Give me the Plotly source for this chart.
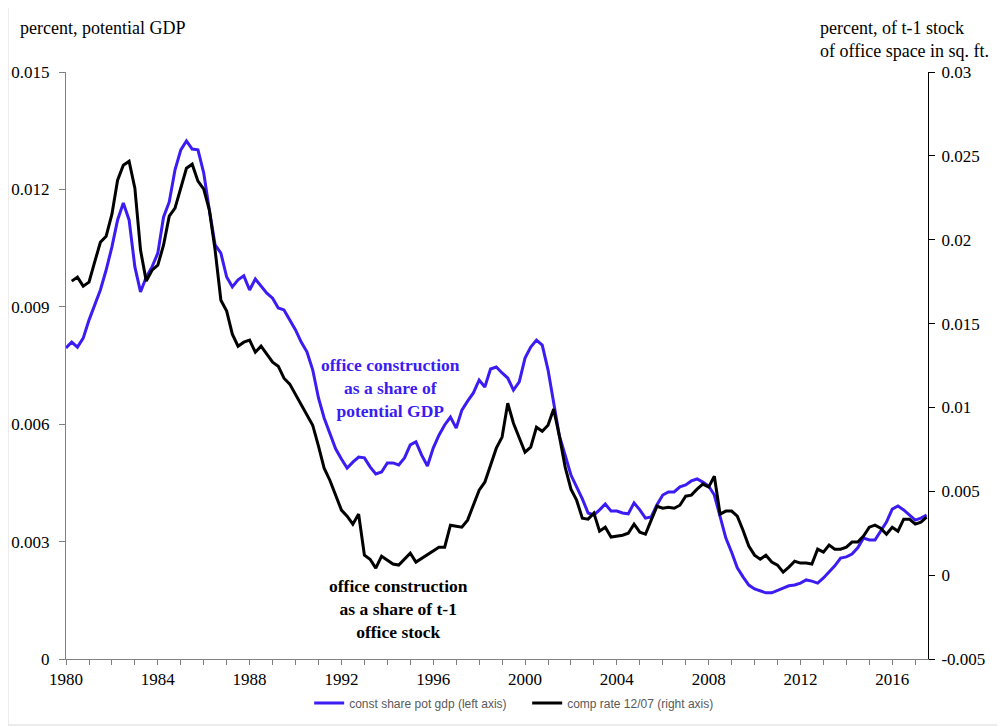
import pandas as pd
import plotly.graph_objects as go

# Quarterly observations, 1980Q1 .. 2017Q3
start_date = "1980-01-01"
n_quarters = 151

share_pot_gdp = [
    0.00795, 0.00810, 0.00797, 0.00820, 0.00866, 0.00905, 0.00943, 0.00994, 0.01053, 0.01122,
    0.01165, 0.01122, 0.01002, 0.00938, 0.00976, 0.01002, 0.01037, 0.01129, 0.01168, 0.01250,
    0.01301, 0.01324, 0.01303, 0.01301, 0.01242, 0.01147, 0.01058, 0.01037, 0.00976, 0.00951,
    0.00969, 0.00979, 0.00943, 0.00971, 0.00953, 0.00935, 0.00922, 0.00897, 0.00892, 0.00866,
    0.00841, 0.00810, 0.00785, 0.00739, 0.00667, 0.00616, 0.00578, 0.00537, 0.00511, 0.00488,
    0.00503, 0.00516, 0.00514, 0.00491, 0.00473, 0.00478, 0.00501, 0.00501, 0.00496, 0.00514,
    0.00547, 0.00555, 0.00521, 0.00493, 0.00539, 0.00572, 0.00598, 0.00618, 0.00590, 0.00636,
    0.00659, 0.00680, 0.00713, 0.00695, 0.00741, 0.00746, 0.00731, 0.00718, 0.00687, 0.00708,
    0.00769, 0.00797, 0.00815, 0.00802, 0.00739, 0.00649, 0.00570, 0.00521, 0.00470, 0.00440,
    0.00409, 0.00373, 0.00368, 0.00381, 0.00396, 0.00378, 0.00378, 0.00373, 0.00371, 0.00399,
    0.00381, 0.00360, 0.00363, 0.00394, 0.00419, 0.00427, 0.00427, 0.00440, 0.00445, 0.00455,
    0.00460, 0.00452, 0.00442, 0.00419, 0.00363, 0.00309, 0.00273, 0.00233, 0.00210, 0.00189,
    0.00179, 0.00174, 0.00169, 0.00169, 0.00176, 0.00181, 0.00187, 0.00189, 0.00194, 0.00202,
    0.00199, 0.00194, 0.00207, 0.00222, 0.00238, 0.00258, 0.00261, 0.00268, 0.00284, 0.00309,
    0.00304, 0.00304, 0.00327, 0.00350, 0.00383, 0.00391, 0.00381, 0.00368, 0.00355, 0.00360,
    0.00368,
]

comp_rate = [
    None, 0.01753, 0.01777, 0.01723, 0.01747, 0.01866, 0.01985, 0.02021, 0.02152, 0.02355,
    0.02444, 0.02468, 0.02307, 0.01938, 0.01753, 0.01818, 0.01848, 0.01967, 0.02140, 0.02188,
    0.02307, 0.02426, 0.02450, 0.02349, 0.02301, 0.02176, 0.01938, 0.01639, 0.01574, 0.01437,
    0.01365, 0.01389, 0.01401, 0.01329, 0.01365, 0.01318, 0.01270, 0.01246, 0.01174, 0.01139,
    0.01079, 0.01019, 0.00960, 0.00894, 0.00769, 0.00638, 0.00566, 0.00471, 0.00388, 0.00352,
    0.00304, 0.00364, 0.00119, 0.00095, 0.00042, 0.00113, 0.00089, 0.00066, 0.00060, 0.00095,
    0.00131, 0.00078, 0.00101, 0.00125, 0.00143, 0.00167, 0.00167, 0.00298, 0.00292, 0.00286,
    0.00328, 0.00417, 0.00507, 0.00554, 0.00662, 0.00757, 0.00823, 0.01025, 0.00906, 0.00823,
    0.00733, 0.00763, 0.00882, 0.00858, 0.00894, 0.00990, 0.00829, 0.00644, 0.00513, 0.00447,
    0.00340, 0.00334, 0.00370, 0.00262, 0.00286, 0.00227, 0.00233, 0.00238, 0.00250, 0.00304,
    0.00256, 0.00244, 0.00328, 0.00411, 0.00399, 0.00405, 0.00399, 0.00417, 0.00471, 0.00477,
    0.00513, 0.00543, 0.00525, 0.00590, 0.00364, 0.00382, 0.00382, 0.00352, 0.00268, 0.00173,
    0.00119, 0.00095, 0.00119, 0.00078, 0.00060, 0.00018, 0.00048, 0.00083, 0.00072, 0.00072,
    0.00066, 0.00155, 0.00137, 0.00179, 0.00155, 0.00155, 0.00167, 0.00197, 0.00197, 0.00233,
    0.00286, 0.00298, 0.00280, 0.00244, 0.00286, 0.00262, 0.00334, 0.00334, 0.00304, 0.00316,
    0.00346,
]

year_ticks = [1980, 1984, 1988, 1992, 1996, 2000, 2004, 2008, 2012, 2016]
left_ticks = [0, 0.003, 0.006, 0.009, 0.012, 0.015]
left_labels = ["0", "0.003", "0.006", "0.009", "0.012", "0.015"]
right_ticks = [-0.005, 0, 0.005, 0.01, 0.015, 0.02, 0.025, 0.03]
right_labels = ["-0.005", "0", "0.005", "0.01", "0.015", "0.02", "0.025", "0.03"]

dates = pd.date_range(start_date, periods=n_quarters, freq="QS")

BLUE = "#3B1CF2"
SERIF = "Liberation Serif, Times New Roman, serif"

fig = go.Figure()
fig.add_trace(go.Scatter(
    x=dates, y=share_pot_gdp, mode="lines", name="const share pot gdp (left axis)",
    line=dict(color=BLUE, width=3), yaxis="y",
))
fig.add_trace(go.Scatter(
    x=dates, y=comp_rate, mode="lines", name="comp rate 12/07 (right axis)",
    line=dict(color="black", width=3), yaxis="y2",
))

fig.update_layout(
    width=997, height=719,
    margin=dict(l=58, r=77, t=64, b=68, autoexpand=False),
    paper_bgcolor="white", plot_bgcolor="white",
    font=dict(family=SERIF, size=17, color="black"),
    xaxis=dict(
        type="date",
        range=["1980-01-01", "2017-07-23"],
        tickvals=[f"{y}-01-01" for y in year_ticks],
        ticktext=[str(y) for y in year_ticks],
        ticks="outside", ticklen=5, tickcolor="#808080",
        minor=dict(dtick="M12", tick0="1980-01-01", ticks="outside", ticklen=5, tickcolor="#808080", showgrid=False),
        showline=True, linecolor="#808080", linewidth=1,
        showgrid=False, zeroline=False, automargin=False,
        tickfont=dict(family=SERIF, size=17),
    ),
    yaxis=dict(
        range=[0, 0.015],
        tickvals=left_ticks, ticktext=left_labels,
        ticks="outside", ticklen=6, tickcolor="#808080",
        showline=True, linecolor="#808080", linewidth=1,
        showgrid=False, zeroline=False, automargin=False,
        tickfont=dict(family=SERIF, size=17),
        ticklabelstandoff=6,
    ),
    yaxis2=dict(
        range=[-0.005, 0.03],
        tickvals=right_ticks, ticktext=right_labels,
        overlaying="y", side="right",
        ticks="outside", ticklen=6, tickcolor="black",
        showline=True, linecolor="black", linewidth=1,
        showgrid=False, zeroline=False, automargin=False,
        tickfont=dict(family=SERIF, size=17),
        ticklabelstandoff=3,
    ),
    legend=dict(
        orientation="h", x=0.535, xanchor="center", y=-0.075, yanchor="middle",
        font=dict(family="Liberation Sans, Arial, sans-serif", size=12, color="#595959"),
        itemwidth=30, traceorder="normal", entrywidth=173,
    ),
    showlegend=True,
)

fig.add_annotation(
    text="percent, potential GDP", xref="paper", yref="paper",
    x=-0.0557, y=1.075, xanchor="left", yanchor="middle", showarrow=False,
    font=dict(family=SERIF, size=18),
)
fig.add_annotation(
    text="percent, of t-1 stock<br>of office space in sq. ft.", xref="paper", yref="paper",
    x=0.8724, y=1.0562, xanchor="left", yanchor="middle", align="left", showarrow=False,
    font=dict(family=SERIF, size=18),
)
fig.add_annotation(
    text="<b>office construction<br>as a share of<br>potential GDP</b>", xref="paper", yref="paper",
    x=0.3759, y=0.4617, xanchor="center", yanchor="middle", align="center", showarrow=False,
    font=dict(family=SERIF, size=17.5, color=BLUE),
)
fig.add_annotation(
    text="<b>office construction<br>as a share of t-1<br>office stock</b>", xref="paper", yref="paper",
    x=0.3852, y=0.0852, xanchor="center", yanchor="middle", align="center", showarrow=False,
    font=dict(family=SERIF, size=17.5, color="black"),
)

# light chart-area border (left and bottom visible)
fig.add_shape(
    type="rect", xref="paper", yref="paper",
    x0=-0.0673, x1=1.2, y0=-0.1124, y1=1.3,
    line=dict(color="#d9d9d9", width=1), fillcolor="rgba(0,0,0,0)", layer="below",
)

fig.write_html("out.html")
